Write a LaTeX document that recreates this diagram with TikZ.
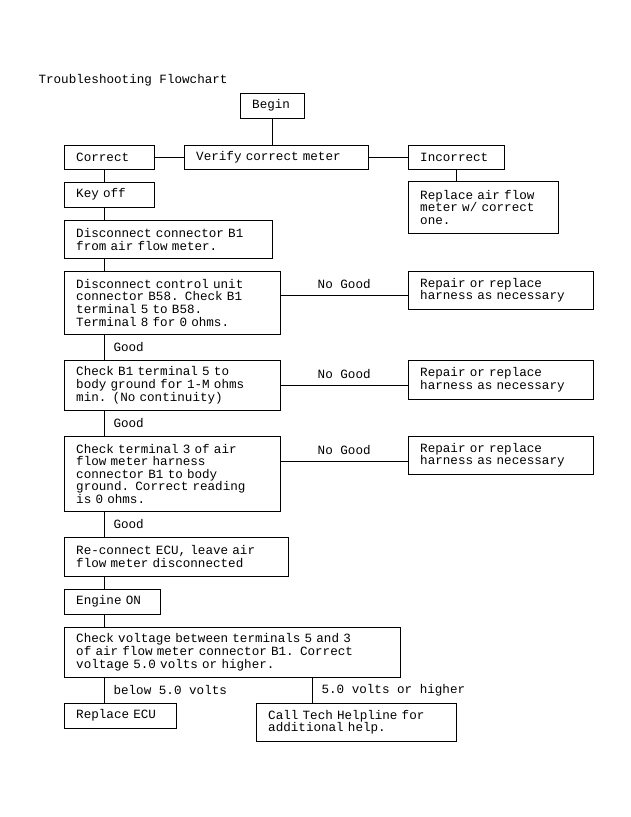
\documentclass[tikz,border=0pt]{standalone}
\usepackage{fontspec}
\setmonofont{Liberation Mono}
\usetikzlibrary{positioning}
\tikzset{
  box/.style={draw, anchor=north west, align=left, inner xsep=12pt, inner ysep=0pt, font=\ttfamily\fontsize{12.6}{12.6}\selectfont},
  lbl/.style={font=\ttfamily\fontsize{12.6}{12.6}\selectfont}
}
\begin{document}
\begin{tikzpicture}[x=1pt,y=1pt]
		\useasboundingbox (0,0) rectangle (631,-817);
		\node[lbl, anchor=west] (title) at (35,-80) {Troubleshooting Flowchart};

		\node[box, minimum width=64, minimum height=25, text width=40] (begin) at (240,-93) {Begin};
		\node[box, minimum width=90, minimum height=24, text width=66] (correct) at (64,-145) {Correct};
		\node[box, minimum width=184, minimum height=24, text width=160] (verify) at (184,-145) {Verify correct meter};
		\node[box, minimum width=96, minimum height=24, text width=72] (incorrect) at (408,-145) {Incorrect};
		\node[box, minimum width=150, minimum height=52, text width=126] (replace) at (408,-181) {Replace air flow\\meter w/ correct\\one.};
		\node[box, minimum width=90, minimum height=25, text width=66] (keyoff) at (64,-182) {Key off};
		\node[box, minimum width=208, minimum height=38, text width=184] (disb) at (64,-220) {Disconnect connector B1\\from air flow meter.};
		\node[box, minimum width=216, minimum height=63, text width=192] (discu) at (64,-271) {Disconnect control unit\\connector B58. Check B1\\terminal 5 to B58.\\Terminal 8 for 0 ohms.};
		\node[box, minimum width=185, minimum height=38, text width=161] (repa) at (408,-271) {Repair or replace\\harness as necessary};
		\node[box, minimum width=216, minimum height=50, text width=192] (chkb) at (64,-360) {Check B1 terminal 5 to\\body ground for 1-M ohms\\min. (No continuity)};
		\node[box, minimum width=185, minimum height=39, text width=161] (repb) at (408,-360) {Repair or replace\\harness as necessary};
		\node[box, minimum width=216, minimum height=75, text width=192] (chkt) at (64,-436) {Check terminal 3 of air\\flow meter harness\\connector B1 to body\\ground. Correct reading\\is 0 ohms.};
		\node[box, minimum width=185, minimum height=38, text width=161] (repc) at (408,-436) {Repair or replace\\harness as necessary};
		\node[box, minimum width=224, minimum height=39, text width=200] (recon) at (64,-537) {Re-connect ECU, leave air\\flow meter disconnected};
		\node[box, minimum width=96, minimum height=25, text width=72] (engine) at (64,-589) {Engine ON};
		\node[box, minimum width=336, minimum height=50, text width=312] (volt) at (64,-627) {Check voltage between terminals 5 and 3\\of air flow meter connector B1. Correct\\voltage 5.0 volts or higher.};
		\node[box, minimum width=112, minimum height=25, text width=88] (ecu) at (64,-703) {Replace ECU};
		\node[box, minimum width=200, minimum height=38, text width=176] (help) at (256,-703) {Call Tech Helpline for\\additional help.};

		\coordinate (trunk) at (104,0);
		\coordinate (side) at (312,0);
		\draw (begin) -- (verify.north -| begin);
		\draw (verify) -- (correct);
		\draw (verify) -- (incorrect);
		\draw (incorrect.south -| 456,0) -- (replace.north -| 456,0);
		\draw (correct.south -| trunk) -- (keyoff.north -| trunk);
		\draw (keyoff.south -| trunk) -- (disb.north -| trunk);
		\draw (disb.south -| trunk) -- (discu.north -| trunk);
		\draw (discu.south -| trunk) -- node[lbl, right=6pt] {Good} (chkb.north -| trunk);
		\draw (chkb.south -| trunk) -- node[lbl, right=6pt] {Good} (chkt.north -| trunk);
		\draw (chkt.south -| trunk) -- node[lbl, right=6pt] {Good} (recon.north -| trunk);
		\draw (recon.south -| trunk) -- (engine.north -| trunk);
		\draw (engine.south -| trunk) -- (volt.north -| trunk);
		\draw (volt.south -| trunk) -- node[lbl, right=6pt] {below 5.0 volts} (ecu.north -| trunk);
		\draw (volt.south -| side) -- node[lbl, right=6pt] {5.0 volts or higher} (help.north -| side);

		\draw ([yshift=-5]repa.west -| discu.east) -- node[lbl, above=3pt] {No Good} ([yshift=-5]repa.west);
		\draw ([yshift=-5]repb.west -| chkb.east) -- node[lbl, above=3pt] {No Good} ([yshift=-5]repb.west);
		\draw ([yshift=-6]repc.west -| chkt.east) -- node[lbl, above=3pt] {No Good} ([yshift=-6]repc.west);
\end{tikzpicture}
\end{document}
